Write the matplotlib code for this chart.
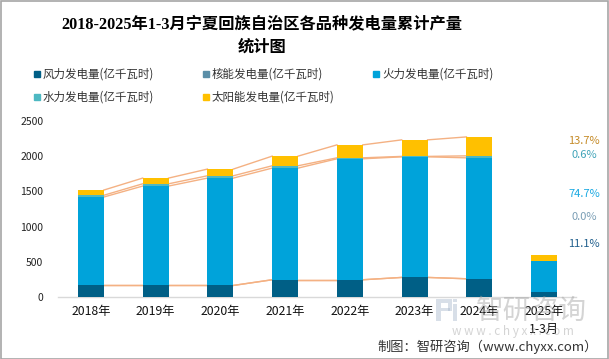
import matplotlib
matplotlib.use("Agg")
import matplotlib.pyplot as plt
import matplotlib.patches as mpatches
import numpy as np

plt.rcParams['font.family'] = ['Noto Sans CJK SC', 'DejaVu Sans']

categories = ["2018年", "2019年", "2020年", "2021年", "2022年", "2023年", "2024年", "2025年\n1-3月"]
wind    = [164, 164, 164, 245, 245, 278, 259, 65.5]
nuclear = [0, 0, 0, 0, 0, 0, 0, 0]
thermal = [1256, 1412, 1525, 1586, 1718, 1713, 1718, 440.8]
hydro   = [25, 32, 33, 33, 14, 6, 28, 3.5]
solar   = [74, 81, 95, 137, 184, 235, 269, 80.8]
series_names = ["风力发电量(亿千瓦时)", "核能发电量(亿千瓦时)", "火力发电量(亿千瓦时)",
                "水力发电量(亿千瓦时)", "太阳能发电量(亿千瓦时)"]
pct_labels = ["13.7%", "0.6%", "74.7%", "0.0%", "11.1%"]
yticks = [0, 500, 1000, 1500, 2000, 2500]

colors = ["#005F86", "#5B8FA8", "#00A3DA", "#4DB8C2", "#FFC000"]
pct_colors = ["#C58A26", "#3FA3B8", "#1AA9E2", "#7A9EB5", "#1F5E8C"]
line_color = "#F4B183"

W, H = 609, 359
fig = plt.figure(figsize=(W / 100, H / 100), dpi=100)

def fx(px):
    return px / W

def fy(py):
    return 1 - py / H

ax_left, ax_right, ax_top, ax_bot = 58.5, 576.5, 121, 297
ax = fig.add_axes([fx(ax_left), fy(ax_bot), (ax_right - ax_left) / W, (ax_bot - ax_top) / H])

x = np.arange(len(categories))
bw = 0.40
data = [wind, nuclear, thermal, hydro, solar]
bottom = np.zeros(len(categories))
levels = []
for vals, c, name in zip(data, colors, series_names):
    vals = np.array(vals, dtype=float)
    ax.bar(x, vals, bw, bottom=bottom, color=c, label=name, zorder=3)
    bottom = bottom + vals
    levels.append(bottom.copy())

# connecting lines between bar tops (2018-2024)
for lv in levels:
    for i in range(6):
        ax.plot([x[i] + bw / 2, x[i + 1] - bw / 2], [lv[i], lv[i + 1]],
                color=line_color, lw=1.0, zorder=2)

ax.set_xlim(-0.5, len(categories) - 0.5)
ax.set_ylim(0, 2500)
ax.set_yticks(yticks)
ax.set_yticklabels([str(v) for v in yticks], fontsize=7.5, color="#222222")
ax.set_xticks(x)
ax.set_xticklabels(categories, fontsize=8.8, color="#111111", linespacing=1.45)
ax.tick_params(axis='y', length=0, pad=11)
ax.tick_params(axis='x', length=0, pad=6)
for s in ["top", "right", "left"]:
    ax.spines[s].set_visible(False)
ax.spines["bottom"].set_color("#D9D9D9")
ax.spines["bottom"].set_linewidth(1.0)

# title
title_font = ['Liberation Serif', 'Noto Sans CJK SC']
fig.text(fx(262), fy(24), "2018-2025年1-3月宁夏回族自治区各品种发电量累计产量",
         ha='center', va='center', fontsize=11.7, fontweight='bold', family=title_font)
fig.text(fx(262), fy(48), "统计图", ha='center', va='center', fontsize=11.7,
         fontweight='bold', family=title_font)

# legend (manual, row-major)
leg_pos = [(37, 74), (206, 74), (376, 74), (37, 97), (206, 97)]
for (lx, ly), c, name in zip(leg_pos, colors, series_names):
    sq = 6.5
    fig.patches.append(mpatches.Rectangle((fx(lx - sq / 2), fy(ly + sq / 2)), sq / W, sq / H,
                                          transform=fig.transFigure, color=c, figure=fig))
    fig.text(fx(lx + 6), fy(ly), name, ha='left', va='center', fontsize=8.3, color="#333333")

# percentage labels at right
pct_y = [141, 155, 194, 217, 244]
for lab, py, c in zip(pct_labels, pct_y, pct_colors):
    fig.text(fx(584), fy(py), lab, ha='center', va='center', fontsize=8, color=c)

# watermark logo (drawn shapes)
logo_c = "#A9B8CC"
logo_rects = [(436, 299, 16, 4), (436, 303, 5, 18), (448, 303, 4, 8),
              (441, 308, 9, 3), (453, 304, 4, 17), (453, 299, 4, 3)]
for (rx, ry, rw, rh) in logo_rects:
    fig.patches.append(mpatches.Rectangle((fx(rx), fy(ry + rh)), rw / W, rh / H,
                                          transform=fig.transFigure, color=logo_c,
                                          alpha=0.45, lw=0, figure=fig, zorder=5))
fig.text(fx(531), fy(311), "智研咨询", ha='center', va='center', fontsize=20,
         color="#A0A0A0", alpha=0.45)
fig.text(fx(513), fy(332), "w w w . c h y x x . c o m", ha='center', va='center',
         fontsize=8.5, color="#A0A0A0", alpha=0.45)

# footer
fig.text(fx(598), fy(347), "制图：智研咨询（www.chyxx.com）", ha='right', va='center',
         fontsize=9.5, color="#333333")

# border
fig.patches.append(mpatches.Rectangle((0.5 / W, 0.5 / H), 1 - 1.5 / W, 1 - 1.5 / H,
                                      transform=fig.transFigure, fill=False,
                                      edgecolor="#A6A6A6", lw=1.2, figure=fig))

fig.savefig("out.png", dpi=100)
